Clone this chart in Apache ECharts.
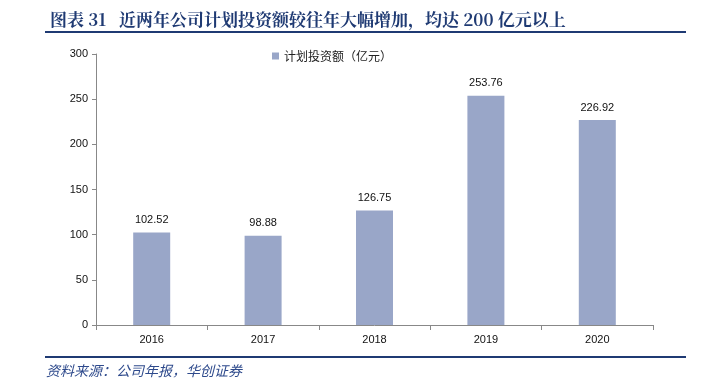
<!DOCTYPE html>
<html>
<head>
<meta charset="utf-8">
<script src="https://cdn.jsdelivr.net/npm/echarts@6/dist/echarts.min.js"></script>
<style>
  html, body { margin: 0; padding: 0; background: #fff; }
  #main { width: 701px; height: 392px; }
</style>
</head>
<body>
<div id="main"></div>
<script>
var years = ['2016', '2017', '2018', '2019', '2020'];
var investValues = [102.52, 98.88, 126.75, 253.76, 226.92];
var seriesName = '计划投资额（亿元）';
var titleText = '图表 31   近两年公司计划投资额较往年大幅增加，均达 200 亿元以上';
var sourceText = '资料来源：公司年报，华创证券';

var navy = '#1F3A73';

var option = {
  animation: false,
  title: {
    text: titleText,
    left: 45,
    top: 6,
    textStyle: {
      fontFamily: 'Noto Serif CJK SC, Noto Sans CJK SC, serif',
      fontWeight: 'bold',
      fontSize: 17,
      color: navy
    }
  },
  legend: {
    data: [seriesName],
    top: 45,
    left: 267,
    itemWidth: 7,
    itemHeight: 7,
    itemGap: 4,
    icon: 'rect',
    textStyle: {
      fontFamily: 'Noto Sans CJK SC',
      fontSize: 12,
      color: '#222'
    }
  },
  grid: {
    left: 96,
    right: 48,
    top: 54,
    bottom: 67,
    containLabel: false
  },
  xAxis: {
    type: 'category',
    data: years,
    axisLine: { lineStyle: { color: '#888', width: 1 } },
    axisTick: { show: true, alignWithLabel: false, length: 5, lineStyle: { color: '#888' } },
    axisLabel: { color: '#111', fontSize: 11, fontFamily: 'Liberation Sans', margin: 9 }
  },
  yAxis: {
    type: 'value',
    min: 0,
    max: 300,
    interval: 50,
    axisLine: { show: true, lineStyle: { color: '#888', width: 1 } },
    axisTick: { show: true, length: 4, lineStyle: { color: '#888' } },
    splitLine: { show: false },
    axisLabel: { color: '#111', fontSize: 11, fontFamily: 'Liberation Sans', margin: 8 }
  },
  series: [{
    name: seriesName,
    type: 'bar',
    data: investValues,
    barWidth: 37,
    itemStyle: { color: '#99A6C8' },
    label: {
      show: true,
      position: 'top',
      distance: 7,
      color: '#111',
      fontSize: 11,
      fontFamily: 'Liberation Sans',
      formatter: function (p) { return p.value.toFixed(2); }
    }
  }],
  graphic: [
    {
      type: 'line',
      shape: { x1: 45, y1: 32, x2: 686, y2: 32 },
      style: { stroke: navy, lineWidth: 2 }
    },
    {
      type: 'line',
      shape: { x1: 45, y1: 357, x2: 686, y2: 357 },
      style: { stroke: navy, lineWidth: 2 }
    },
    {
      type: 'text',
      left: 46,
      top: 364,
      style: {
        text: sourceText,
        fill: '#2E4A8C',
        fontSize: 14,
        fontStyle: 'italic',
        fontFamily: 'Noto Sans CJK SC'
      }
    }
  ]
};

var chart = echarts.init(document.getElementById('main'));
chart.setOption(option);
window.addEventListener('resize', function () {
  chart.resize();
});
</script>
</body>
</html>
